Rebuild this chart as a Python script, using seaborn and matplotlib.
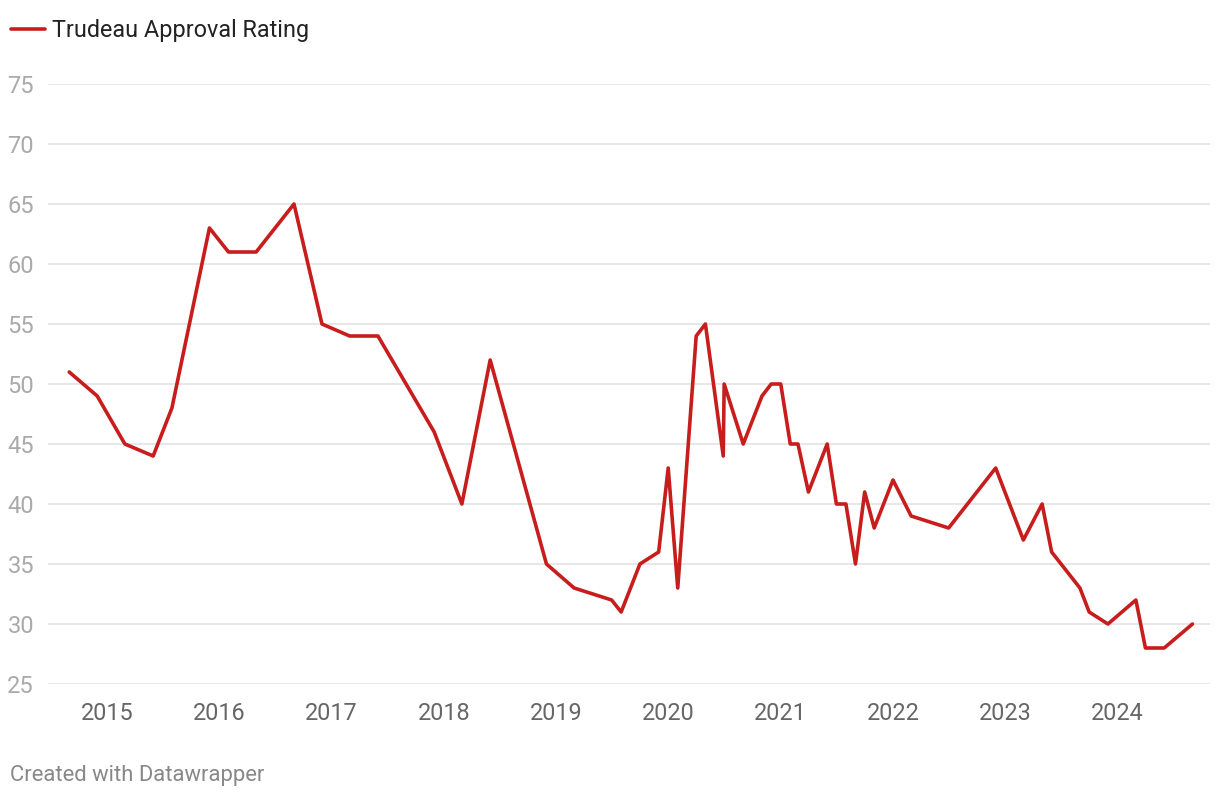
import pandas as pd
import matplotlib.pyplot as plt
import matplotlib.dates as mdates
import seaborn as sns

dates = [
    "2014-09-01", "2014-12-01", "2015-03-01", "2015-06-01", "2015-08-01",
    "2015-12-01", "2016-02-01", "2016-05-01", "2016-09-01", "2016-12-01",
    "2017-03-01", "2017-06-01", "2017-12-01", "2018-03-01", "2018-06-01",
    "2018-12-01", "2019-03-01", "2019-07-01", "2019-08-01", "2019-10-01",
    "2019-12-01", "2020-01-01", "2020-02-01", "2020-04-01", "2020-05-01",
    "2020-06-28", "2020-07-01", "2020-09-01", "2020-11-01", "2020-12-01",
    "2021-01-01", "2021-02-01", "2021-02-26", "2021-04-01", "2021-06-01",
    "2021-07-01", "2021-08-01", "2021-09-01", "2021-10-01", "2021-11-01",
    "2022-01-01", "2022-03-01", "2022-07-01", "2022-12-01", "2023-03-01",
    "2023-05-01", "2023-06-01", "2023-09-01", "2023-10-01", "2023-12-01",
    "2024-03-01", "2024-04-01", "2024-06-01", "2024-09-01",
]
approval = [
    51, 49, 45, 44, 48,
    63, 61, 61, 65, 55,
    54, 54, 46, 40, 52,
    35, 33, 32, 31, 35,
    36, 43, 33, 54, 55,
    44, 50, 45, 49, 50,
    50, 45, 45, 41, 45,
    40, 40, 35, 41, 38,
    42, 39, 38, 43, 37,
    40, 36, 33, 31, 30,
    32, 28, 28, 30,
]
y_ticks = [25, 30, 35, 40, 45, 50, 55, 60, 65, 70, 75]

df = pd.DataFrame({"date": pd.to_datetime(dates), "approval": approval})

sns.set_style("white")
plt.rcParams["font.family"] = ["Roboto", "DejaVu Sans"]

red = "#c71e1d"

fig = plt.figure(figsize=(12.2, 8), dpi=100)
ax = fig.add_axes([48 / 1220, 1 - 684 / 800, (1210 - 48) / 1220, 600 / 800])

sns.lineplot(data=df, x="date", y="approval", ax=ax, color=red, linewidth=2.6,
             label="Trudeau Approval Rating", legend=False)

ax.set_ylim(25, 75)
ax.set_xlim(pd.Timestamp("2014-06-24"), pd.Timestamp("2024-10-28"))
ax.set_yticks(y_ticks)
ax.yaxis.grid(True, color="#e3e3e3", linewidth=1.2)
ax.xaxis.grid(False)
ax.set_axisbelow(True)
for s in ax.spines.values():
    s.set_visible(False)

ax.xaxis.set_major_locator(mdates.YearLocator())
ax.xaxis.set_major_formatter(mdates.DateFormatter("%Y"))
ax.tick_params(axis="x", length=0, pad=13, labelsize=16.8, labelcolor="#666666")
ax.tick_params(axis="y", length=0, pad=10, labelsize=17, labelcolor="#aaaaaa")
ax.set_xlabel("")
ax.set_ylabel("")

# legend at the top-left
fig.legend(handles=ax.get_lines()[:1], labels=["Trudeau Approval Rating"],
           loc="center left", bbox_to_anchor=(2 / 1220, 1 - 31 / 800),
           frameon=False, fontsize=16.8, handlelength=1.45, handletextpad=0.3,
           labelcolor="#222222", borderaxespad=0)

fig.text(10 / 1220, 1 - 776 / 800, "Created with Datawrapper", fontsize=15.8,
         color="#888888", va="center", ha="left")

fig.savefig("out.png", dpi=100)
